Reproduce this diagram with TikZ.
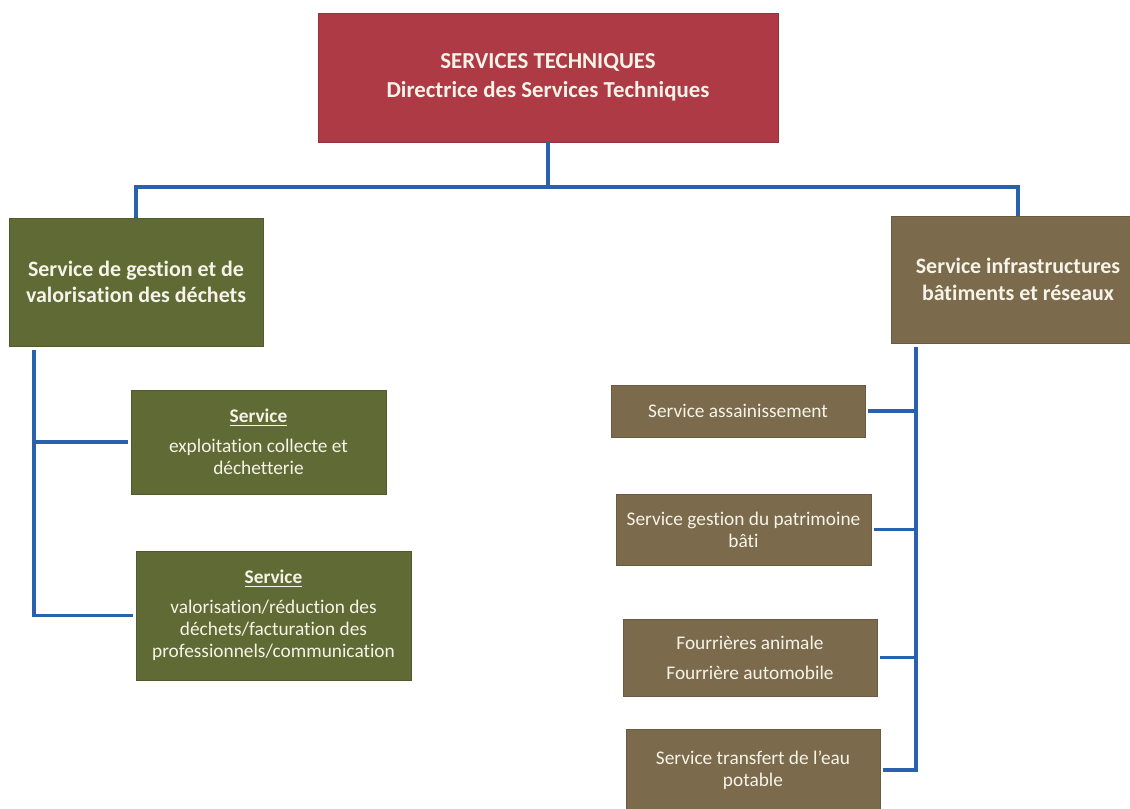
\documentclass[tikz,border=0pt]{standalone}
\usepackage{fontspec}
\setmainfont[Ligatures=NoCommon]{Carlito}
\definecolor{rouge}{RGB}{174,58,70}
\definecolor{olive}{RGB}{95,106,52}
\definecolor{brun}{RGB}{123,106,76}
\definecolor{bleu}{RGB}{40,98,172}
\definecolor{creme}{RGB}{246,243,232}
\tikzset{
	boite/.style={rectangle, draw=#1!85!black, fill=#1, text=creme, align=center, inner sep=2pt, line width=0.5pt},
	grand/.style={font=\fontsize{12.5}{15}\selectfont\bfseries},
	petit/.style={font=\fontsize{11}{12.6}\selectfont},
	lien/.style={draw=bleu, line width=1.9pt}
}
\begin{document}
\begin{tikzpicture}
		\useasboundingbox (0,0) rectangle (22.6,-16.16);

		\node[boite=rouge, minimum width=9.2cm, minimum height=2.58cm, font=\fontsize{13}{16.5}\selectfont\bfseries] (dir) at (10.96,-1.55) {SERVICES TECHNIQUES\\Directrice des Services Techniques};

		\node[boite=olive, grand, minimum width=5.08cm, minimum height=2.56cm] (gestion) at (2.72,-5.64) {Service de gestion et de\\valorisation des déchets};
		\node[boite=brun, grand, minimum width=5.08cm, minimum height=2.54cm] (infra) at (20.36,-5.59) {Service infrastructures\\bâtiments et réseaux};

		\node[boite=olive, petit, minimum width=5.1cm, minimum height=2.08cm] (collecte) at (5.17,-8.84) {\textbf{\underline{Service}}\\[4.5pt]exploitation collecte et\\déchetterie};
		\node[boite=olive, petit, minimum width=5.5cm, minimum height=2.58cm] (valor) at (5.47,-12.31) {\textbf{\underline{Service}}\\[4.5pt]valorisation/réduction des\\déchets/facturation des\\professionnels/communication};

		\node[boite=brun, petit, minimum width=5.08cm, minimum height=1.04cm] (assain) at (14.76,-8.22) {Service assainissement};
		\node[boite=brun, petit, minimum width=5.1cm, minimum height=1.42cm] (patri) at (14.87,-10.59) {Service gestion du patrimoine\\bâti};
		\node[boite=brun, petit, minimum width=5.08cm, minimum height=1.54cm] (fourr) at (15.0,-13.15) {Fourrières animale\\[4.5pt]Fourrière automobile};
		\node[boite=brun, petit, minimum width=5.08cm, minimum height=1.64cm] (eau) at (15.06,-15.4) {Service transfert de l’eau\\potable};

		\coordinate (barre) at (10.96,-3.74);
		\coordinate (tg) at (0.68,-7.0);
		\coordinate (ti) at (18.32,-6.94);

		\draw[lien] (dir.south) -- (barre);
		\draw[lien] (gestion.north) |- (barre) -| (infra.north);

		\draw[lien, shorten >=1.5pt] (tg) |- (collecte.west);
		\draw[lien, shorten >=1.5pt] (tg) |- (valor.west);

		\draw[lien, shorten >=1.5pt] (ti) |- (assain.east);
		\draw[lien, shorten >=1.5pt] (ti) |- (patri.east);
		\draw[lien, shorten >=1.5pt] (ti) |- (fourr.east);
		\draw[lien, shorten >=1.5pt] (ti) |- (eau.east);
	\end{tikzpicture}
\end{document}
